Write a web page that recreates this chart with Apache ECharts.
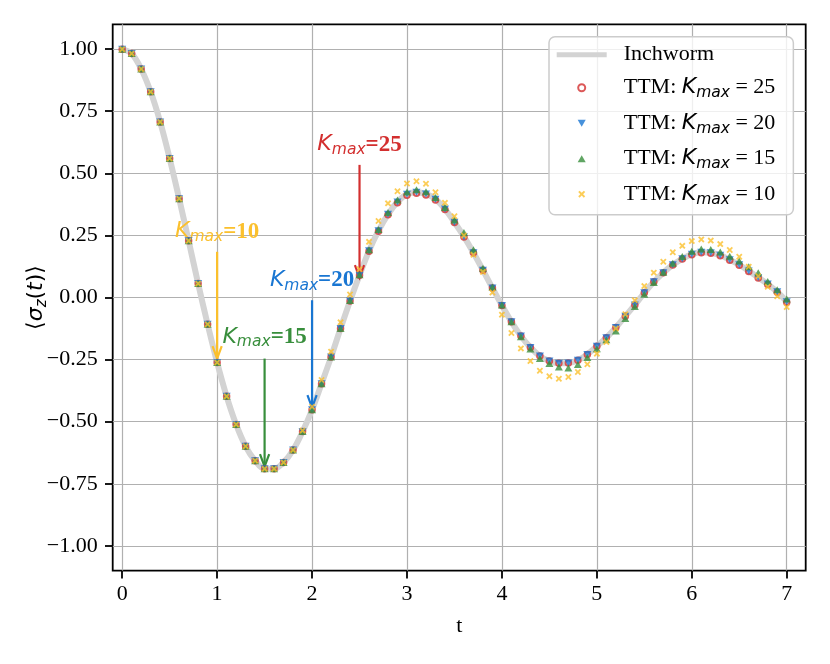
<!DOCTYPE html>
<html><head><meta charset="utf-8">
<script src="https://cdn.jsdelivr.net/npm/echarts@6/dist/echarts.min.js"></script>
<style>html,body{margin:0;padding:0;background:#fff}#c{width:830px;height:664px}</style>
</head><body><div id="c"></div>
<script>
// ---- data ----
const t = [0.0,0.1,0.2,0.3,0.4,0.5,0.6,0.7,0.8,0.9,
  1.0,1.1,1.2,1.3,1.4,1.5,1.6,1.7,1.8,1.9,
  2.0,2.1,2.2,2.3,2.4,2.5,2.6,2.7,2.8,2.9,
  3.0,3.1,3.2,3.3,3.4,3.5,3.6,3.7,3.8,3.9,
  4.0,4.1,4.2,4.3,4.4,4.5,4.6,4.7,4.8,4.9,
  5.0,5.1,5.2,5.3,5.4,5.5,5.6,5.7,5.8,5.9,
  6.0,6.1,6.2,6.3,6.4,6.5,6.6,6.7,6.8,6.9,7.0];

const inchworm = [1.000,0.982,0.920,0.828,0.707,0.560,0.398,0.228,0.056,-0.108,
  -0.262,-0.398,-0.511,-0.599,-0.657,-0.690,-0.690,-0.664,-0.614,-0.540,
  -0.452,-0.347,-0.240,-0.125,-0.014,0.090,0.188,0.269,0.335,0.385,
  0.416,0.424,0.417,0.396,0.356,0.303,0.245,0.180,0.110,0.038,
  -0.032,-0.098,-0.155,-0.201,-0.236,-0.256,-0.265,-0.264,-0.253,-0.229,
  -0.196,-0.162,-0.121,-0.075,-0.030,0.019,0.063,0.100,0.132,0.156,
  0.174,0.182,0.180,0.170,0.152,0.132,0.107,0.081,0.054,0.023,-0.017];

const ttm25 = [1.000,0.982,0.920,0.828,0.707,0.560,0.398,0.228,0.056,-0.108,
  -0.262,-0.398,-0.511,-0.599,-0.657,-0.690,-0.690,-0.664,-0.614,-0.540,
  -0.452,-0.347,-0.240,-0.125,-0.014,0.090,0.186,0.267,0.333,0.382,
  0.412,0.420,0.413,0.393,0.354,0.302,0.244,0.180,0.110,0.038,
  -0.032,-0.098,-0.155,-0.201,-0.236,-0.256,-0.265,-0.264,-0.253,-0.229,
  -0.196,-0.162,-0.121,-0.075,-0.030,0.019,0.063,0.100,0.131,0.155,
  0.172,0.180,0.178,0.168,0.150,0.130,0.105,0.079,0.052,0.021,-0.019];

const ttm20 = [1.000,0.982,0.920,0.828,0.707,0.560,0.398,0.228,0.056,-0.108,
  -0.262,-0.398,-0.511,-0.599,-0.657,-0.690,-0.690,-0.664,-0.614,-0.540,
  -0.452,-0.347,-0.240,-0.125,-0.014,0.090,0.188,0.269,0.335,0.385,
  0.416,0.424,0.417,0.396,0.356,0.303,0.245,0.180,0.110,0.038,
  -0.032,-0.098,-0.155,-0.201,-0.236,-0.256,-0.265,-0.264,-0.253,-0.229,
  -0.196,-0.162,-0.121,-0.075,-0.030,0.019,0.063,0.100,0.132,0.156,
  0.174,0.182,0.180,0.170,0.152,0.132,0.107,0.081,0.054,0.023,-0.017];

const ttm15 = [1.000,0.982,0.920,0.828,0.707,0.560,0.398,0.228,0.056,-0.108,
  -0.262,-0.398,-0.511,-0.599,-0.657,-0.690,-0.690,-0.664,-0.614,-0.540,
  -0.452,-0.347,-0.240,-0.125,-0.012,0.092,0.192,0.274,0.342,0.393,
  0.425,0.434,0.426,0.403,0.362,0.312,0.262,0.192,0.118,0.042,
  -0.030,-0.098,-0.158,-0.207,-0.246,-0.266,-0.280,-0.284,-0.270,-0.242,
  -0.206,-0.170,-0.135,-0.085,-0.036,0.013,0.060,0.102,0.138,0.165,
  0.186,0.195,0.193,0.183,0.166,0.147,0.124,0.100,0.064,0.031,-0.006];

const ttm10 = [1.000,0.982,0.920,0.828,0.707,0.560,0.398,0.228,0.056,-0.108,
  -0.262,-0.398,-0.511,-0.599,-0.657,-0.690,-0.690,-0.664,-0.614,-0.536,
  -0.440,-0.332,-0.218,-0.100,0.012,0.114,0.224,0.308,0.379,0.428,
  0.459,0.468,0.458,0.424,0.381,0.327,0.250,0.172,0.103,0.020,
  -0.069,-0.143,-0.205,-0.256,-0.295,-0.317,-0.327,-0.320,-0.300,-0.269,
  -0.226,-0.179,-0.125,-0.067,-0.011,0.046,0.100,0.144,0.182,0.208,
  0.227,0.234,0.229,0.215,0.191,0.164,0.124,0.086,0.043,0.005,-0.038];

const xTicks = [0,1,2,3,4,5,6,7];
const yTicks = [-1.00,-0.75,-0.50,-0.25,0.00,0.25,0.50,0.75,1.00];

// annotations: K_max label, x, arrow tip y, arrow tail y, text baseline y
const annLabel = ['10','15','20','25'];
const annX     = [1.0, 1.5, 2.0, 2.5];
const annTip   = [-0.246, -0.681, -0.443, 0.080];
const annTail  = [0.184, -0.246, -0.011, 0.534];
const annText  = [0.245, -0.179, 0.050, 0.595];

// ---- styles ----
const COL = {'25':'#d32f2f','20':'#1976d2','15':'#388e3c','10':'#fbc02d'};
const SERIF = '"Liberation Serif","Times New Roman",serif';
const MATH = '"DejaVu Sans",sans-serif';
const TRI_UP = 'path://M5,0L10,8.66L0,8.66Z';
const TRI_DOWN = 'path://M0,0L10,0L5,8.66Z';
const XMARK = 'path://M2,0L5,3L8,0L10,2L7,5L10,8L8,10L5,7L2,10L0,8L3,5L0,2Z';

const pairs = arr => t.map((x,i)=>[x, arr[i]]);
const fmtY = v => (v < 0 ? '\u2212' : '') + Math.abs(v).toFixed(2);

const chart = echarts.init(document.getElementById('c'));

const legendRich = {
  sp:{width:12},
  a:{fontFamily:SERIF, fontSize:22, color:'#000', lineHeight:28},
  k:{fontFamily:MATH, fontStyle:'italic', fontSize:22, color:'#000', lineHeight:28},
  s:{fontFamily:MATH, fontStyle:'italic', fontSize:15.5, color:'#000', lineHeight:28, padding:[11,0,0,0]}
};
const legendName = {
  'Inchworm':'{sp|}{a|Inchworm}',
  'TTM25':'{sp|}{a|TTM: }{k|K}{s|max}{a| = 25}',
  'TTM20':'{sp|}{a|TTM: }{k|K}{s|max}{a| = 20}',
  'TTM15':'{sp|}{a|TTM: }{k|K}{s|max}{a| = 15}',
  'TTM10':'{sp|}{a|TTM: }{k|K}{s|max}{a| = 10}'
};

const annData = annX.map((x,i)=>[x, annTip[i], annTail[i], annText[i], i]);

const option = {
  animation:false,
  grid:{left:112.7, right:24.3, top:24.3, bottom:93.3, show:true, borderColor:'#000', borderWidth:1.8, backgroundColor:'transparent'},
  xAxis:{type:'value', min:-0.1, max:7.2,
    axisLine:{show:false, onZero:false},
    axisTick:{show:true, inside:false, length:7.7, customValues:xTicks, lineStyle:{color:'#000', width:1.8}},
    axisLabel:{customValues:xTicks, margin:13, fontFamily:SERIF, fontSize:22, color:'#000', formatter:v=>String(v)},
    splitLine:{show:true, lineStyle:{color:'#b0b0b0', width:1.2}},
    name:'t', nameLocation:'middle', nameGap:45, nameMoveOverlap:false,
    nameTextStyle:{fontFamily:SERIF, fontSize:22, color:'#000'}
  },
  yAxis:{type:'value', min:-1.1, max:1.1,
    axisLine:{show:false, onZero:false},
    axisTick:{show:true, inside:false, length:7.7, customValues:yTicks, lineStyle:{color:'#000', width:1.8}},
    axisLabel:{customValues:yTicks, margin:15, fontFamily:SERIF, fontSize:22, color:'#000', formatter:fmtY},
    splitLine:{show:true, lineStyle:{color:'#b0b0b0', width:1.2}},
    name:'{u|\u27E8}{i|\u03C3}{z|z}{u|(}{i|t}{u|)\u27E9}', nameLocation:'middle', nameGap:62, nameMoveOverlap:false,
    nameTextStyle:{rich:{
      u:{fontFamily:MATH, fontSize:22, color:'#000', lineHeight:28},
      i:{fontFamily:MATH, fontStyle:'italic', fontSize:22, color:'#000', lineHeight:28},
      z:{fontFamily:MATH, fontStyle:'italic', fontSize:15, color:'#000', lineHeight:28, padding:[11,0,0,0]}
    }}
  },
  legend:{
    orient:'vertical', left:549, top:36.7,
    padding:[7,18,7,7.7], itemWidth:50, itemHeight:7, itemGap:8.5,
    backgroundColor:'rgba(255,255,255,0.8)', borderColor:'#cccccc', borderWidth:1.5, borderRadius:6,
    selectedMode:false,
    data:[{name:'Inchworm', icon:'path://M0,0H100V10H0Z'}, {name:'TTM25'}, {name:'TTM20'}, {name:'TTM15'}, {name:'TTM10'}],
    formatter:n=>legendName[n],
    textStyle:{rich:legendRich}
  },
  series:[
    {name:'Inchworm', type:'line', data:pairs(inchworm), smooth:0.35, showSymbol:false, symbol:'none',
     color:'#d3d3d3', lineStyle:{color:'#d3d3d3', width:6}, silent:true, z:2},
    {name:'ann', type:'custom', data:annData, silent:true, z:3, clip:false,
     renderItem:(params, api)=>{
       const i = api.value(4);
       const lab = annLabel[i];
       const c = COL[lab];
       const tip = api.coord([api.value(0), api.value(1)]);
       const tail = api.coord([api.value(0), api.value(2)]);
       const tx = api.coord([api.value(0), api.value(3)]);
       return {type:'group', children:[
         {type:'line', shape:{x1:tail[0], y1:tail[1], x2:tip[0], y2:tip[1]}, style:{stroke:c, lineWidth:2.2}},
         {type:'polyline', shape:{points:[[tip[0]-4.6, tip[1]-12.5],[tip[0], tip[1]],[tip[0]+4.6, tip[1]-12.5]]},
          style:{stroke:c, lineWidth:2.2, fill:null}},
         {type:'text', x:tx[0], y:tx[1]+9, style:{
           text:'{k|K}{s|max}{b|=' + lab + '}', align:'center', verticalAlign:'bottom', fill:c,
           rich:{
             k:{fontFamily:MATH, fontStyle:'italic', fontSize:22, fill:c, lineHeight:28},
             s:{fontFamily:MATH, fontStyle:'italic', fontSize:15.5, fill:c, lineHeight:28, padding:[11,0,0,0]},
             b:{fontFamily:SERIF, fontWeight:'bold', fontSize:23, fill:c, lineHeight:28}
           }}}
       ]};
     }},
    {name:'TTM25', type:'scatter', data:pairs(ttm25), symbol:'emptyCircle', symbolSize:5.5,
     itemStyle:{color:'#d32f2f', borderColor:'#d32f2f', borderWidth:1.2}, silent:true, z:4},
    {name:'TTM20', type:'scatter', data:pairs(ttm20), symbol:TRI_DOWN, symbolSize:[8,7],
     itemStyle:{color:'#1976d2'}, silent:true, z:4},
    {name:'TTM15', type:'scatter', data:pairs(ttm15), symbol:TRI_UP, symbolSize:[8,7],
     itemStyle:{color:'#388e3c'}, silent:true, z:4},
    {name:'TTM10', type:'scatter', data:pairs(ttm10), symbol:XMARK, symbolSize:6.5,
     itemStyle:{color:'#fbc02d'}, silent:true, z:4}
  ]
};
chart.setOption(option);
</script>
</body></html>
